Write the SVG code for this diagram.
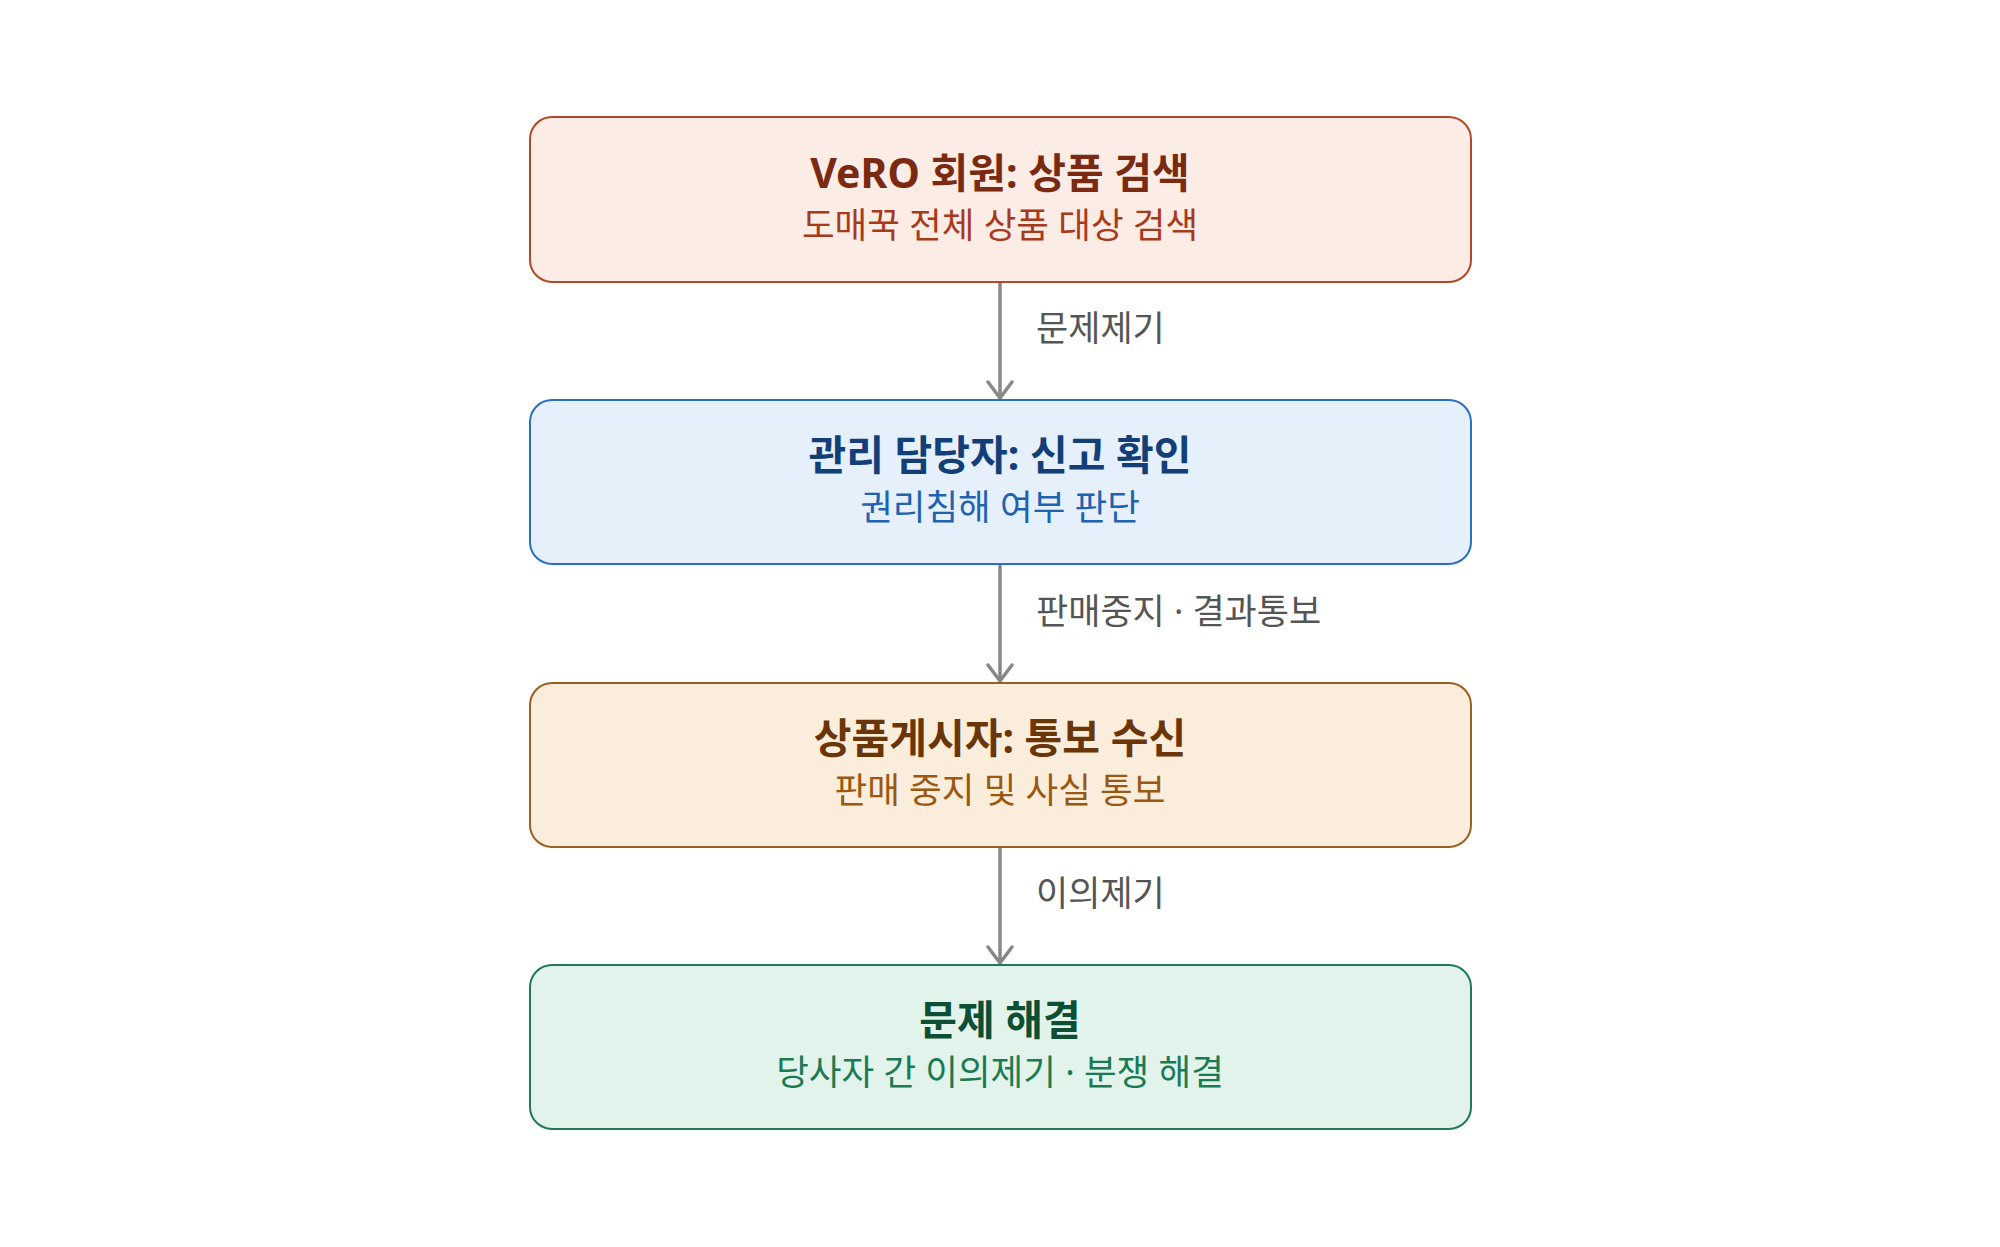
<svg xmlns="http://www.w3.org/2000/svg" width="2000" height="1247" viewBox="0 0 2000 1247">
<defs>
<style>
text{font-family:"Noto Sans","Noto Sans CJK KR",sans-serif;text-anchor:middle}
.t{font-size:41px;font-weight:700}
.s{font-size:35.5px}
.l{font-size:35px;fill:#555555;text-anchor:start}
.box{stroke-width:2}
.c{stroke:#888886;stroke-width:3.5;fill:none;stroke-linecap:round;stroke-linejoin:round}
</style>
</defs>
<rect width="2000" height="1247" fill="#ffffff"/>
<g id="connectors">
<line class="c" x1="1000" y1="282" x2="1000" y2="398"/>
<line class="c" x1="1000" y1="564" x2="1000" y2="681"/>
<line class="c" x1="1000" y1="847" x2="1000" y2="963"/>
<path d="M988 382 L1000 398 L1012 382" class="c"/>
<path d="M988 665 L1000 681 L1012 665" class="c"/>
<path d="M988 947 L1000 963 L1012 947" class="c"/>
<text class="l" x="1036" y="341">문제제기</text>
<text class="l" x="1036" y="624">판매중지 · 결과통보</text>
<text class="l" x="1036" y="906">이의제기</text>
</g>
<g id="node1">
<rect class="box" x="530" y="117" width="941" height="165" rx="22" fill="#fbece6" stroke="#b0482a"/>
<text class="t" x="1000" y="188" fill="#7a2a10">VeRO 회원: 상품 검색</text>
<text class="s" x="1000" y="238" fill="#a83a1c">도매꾹 전체 상품 대상 검색</text>
</g>
<g id="node2">
<rect class="box" x="530" y="400" width="941" height="164" rx="22" fill="#e6f0fb" stroke="#2a6fc0"/>
<text class="t" x="1000" y="470" fill="#123f77">관리 담당자: 신고 확인</text>
<text class="s" x="1000" y="520" fill="#1f62b0">권리침해 여부 판단</text>
</g>
<g id="node3">
<rect class="box" x="530" y="683" width="941" height="164" rx="22" fill="#fbeddb" stroke="#9a6020"/>
<text class="t" x="1000" y="753" fill="#6a3608">상품게시자: 통보 수신</text>
<text class="s" x="1000" y="803" fill="#9a5810">판매 중지 및 사실 통보</text>
</g>
<g id="node4">
<rect class="box" x="530" y="965" width="941" height="164" rx="22" fill="#e2f3ec" stroke="#1f7a55"/>
<text class="t" x="1000" y="1035" fill="#0d4f35">문제 해결</text>
<text class="s" x="1000" y="1085" fill="#1a7a52">당사자 간 이의제기 · 분쟁 해결</text>
</g>
</svg>
